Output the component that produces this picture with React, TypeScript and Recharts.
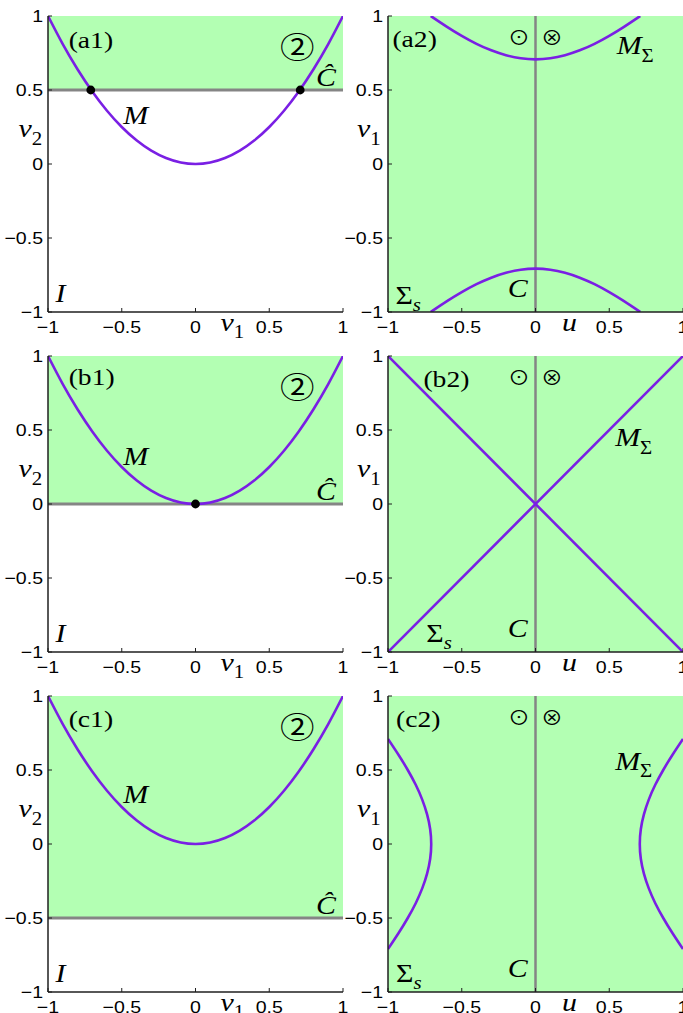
import React from 'react'
import {
  ComposedChart, Line, Scatter, XAxis, YAxis,
  ReferenceArea, ReferenceLine, ReferenceDot,
} from 'recharts'

// ---- data ----
const axisTicks = [-1, -0.5, 0, 0.5, 1]
const tickText: Record<string, string> = { '-1': '−1', '-0.5': '−0.5', '0': '0', '0.5': '0.5', '1': '1' }

// M in the (v1, v2) plane
const v1Grid = [-1, -0.9, -0.8, -0.7, -0.6, -0.5, -0.4, -0.3, -0.2, -0.1, 0, 0.1, 0.2, 0.3, 0.4, 0.5, 0.6, 0.7, 0.8, 0.9, 1]
const mCurve = [1, 0.81, 0.64, 0.49, 0.36, 0.25, 0.16, 0.09, 0.04, 0.01, 0, 0.01, 0.04, 0.09, 0.16, 0.25, 0.36, 0.49, 0.64, 0.81, 1]

// level of C-hat per row (a, b, c)
const cHatLevels = [0.5, 0, -0.5]

// points where M meets C-hat
const dotsA_v1 = [-0.71, 0.71]
const dotsA_v2 = [0.5, 0.5]
const dotsB_v1 = [0]
const dotsB_v2 = [0]

// (a2) M_Sigma: two branches over u
const uBranchA = [-0.71, -0.6, -0.5, -0.4, -0.3, -0.2, -0.1, 0, 0.1, 0.2, 0.3, 0.4, 0.5, 0.6, 0.71]
const mSigmaUpperA = [1, 0.927, 0.866, 0.812, 0.768, 0.735, 0.714, 0.707, 0.714, 0.735, 0.768, 0.812, 0.866, 0.927, 1]
const mSigmaLowerA = [-1, -0.927, -0.866, -0.812, -0.768, -0.735, -0.714, -0.707, -0.714, -0.735, -0.768, -0.812, -0.866, -0.927, -1]

// (b2) the two crossing lines
const uDiag = [-1, 1]
const diagRising = [-1, 1]
const diagFalling = [1, -1]

// (c2) M_Sigma: two branches over v1
const v1BranchC = [-0.71, -0.6, -0.5, -0.4, -0.3, -0.2, -0.1, 0, 0.1, 0.2, 0.3, 0.4, 0.5, 0.6, 0.71]
const uLeftC = [-1, -0.927, -0.866, -0.812, -0.768, -0.735, -0.714, -0.707, -0.714, -0.735, -0.768, -0.812, -0.866, -0.927, -1]
const uRightC = [1, 0.927, 0.866, 0.812, 0.768, 0.735, 0.714, 0.707, 0.714, 0.735, 0.768, 0.812, 0.866, 0.927, 1]

const pts = (xs: number[], ys: number[]) => xs.map((x, i) => ({ x, y: ys[i] }))

// ---- styling ----
const SX = 1.15
const PURPLE = '#7a1fe4'
const GREEN = '#b3ffb3'
const GRAY = '#858585'
const FRAME = '#1f1f1f'
const SERIF = '"Liberation Serif", "Times New Roman", serif'
const SANS = '"Liberation Sans", Arial, sans-serif'
const SYM = '"Noto Sans CJK JP", "DejaVu Sans", sans-serif'

const W = 353
const H = 348
const TICK = 4

type Part = { t: string; it?: boolean; sub?: boolean }
type Note = { x: number; y: number; parts: Part[]; font?: string; size?: number; anchor?: 'start' | 'middle'; center?: boolean }

const tag = (t: string, x: number, y: number): Note => ({ x, y, parts: [{ t }], size: 24, center: true })
const sym = (t: string, x: number, y: number, size: number): Note => ({ x, y, parts: [{ t }], font: SYM, size, anchor: 'middle', center: true })
const math = (parts: Part[], x: number, y: number, anchor: 'start' | 'middle' = 'start'): Note => ({ x, y, parts, size: 26, anchor })

function noteLabel(n: Note) {
  const size = n.size ?? 26
  return (props: any) => {
    const vb = props.viewBox ?? { x: 0, y: 0, width: 0, height: 0 }
    const cx = vb.x + (vb.width ?? 0) / 2
    const cy = vb.y + (vb.height ?? 0) / 2 + (n.center ? size * 0.35 : 0)
    let inSub = false
    return (
      <text
        transform={`translate(${cx},${cy}) scale(${SX},1)`}
        textAnchor={n.anchor ?? 'start'}
        fontFamily={n.font ?? SERIF}
        fontSize={size}
        fill="#000"
      >
        {n.parts.map((p, i) => {
          const dy = p.sub && !inSub ? size * 0.28 : !p.sub && inSub ? -size * 0.28 : 0
          inSub = !!p.sub
          return (
            <tspan key={i} dy={dy || undefined} fontStyle={p.it ? 'italic' : 'normal'} fontSize={p.sub ? size * 0.7 : size}>
              {p.t}
            </tspan>
          )
        })}
      </text>
    )
  }
}

const bottomTick = (p: any) => (
  <g>
    <line x1={p.x} x2={p.x} y1={p.y} y2={p.y - TICK} stroke={FRAME} />
    <text transform={`translate(${p.x},${p.y + 21}) scale(${SX},1)`} textAnchor="middle" fontFamily={SANS} fontSize={17} fill="#000">
      {tickText[String(p.payload.value)]}
    </text>
  </g>
)
const leftTick = (p: any) => (
  <g>
    <line x1={p.x} x2={p.x + TICK} y1={p.y} y2={p.y} stroke={FRAME} />
    <text transform={`translate(${p.x - 5},${p.y + 6}) scale(${SX},1)`} textAnchor="end" fontFamily={SANS} fontSize={17} fill="#000">
      {tickText[String(p.payload.value)]}
    </text>
  </g>
)
const topTick = (p: any) => <line x1={p.x} x2={p.x} y1={p.y} y2={p.y + TICK} stroke={FRAME} />
const rightTick = (p: any) => <line x1={p.x} x2={p.x - TICK} y1={p.y} y2={p.y} stroke={FRAME} />

type Spec = {
  key: string
  left: number
  top: number
  fillFrom: number
  cHat?: number
  cVertical?: boolean
  curves: { x: number; y: number }[][]
  straight?: boolean
  dots?: { x: number; y: number }[]
  notes: Note[]
}

const leftNotes = (label: string, labelY: number, cHat: number, mY: number): Note[] => [
  tag(label, -0.86, labelY),
  sym('②', 0.69, 0.79, 30),
  math([{ t: 'M', it: true }], -0.49, mY),
  math([{ t: 'Ĉ', it: true }], 0.885, cHat + 0.028, 'middle'),
  math([{ t: 'I', it: true }], -0.95, -0.93),
  math([{ t: 'v', it: true }, { t: '2', sub: true }], -1.2, 0.18),
  math([{ t: 'v', it: true }, { t: '1', sub: true }], 0.17, -1.128),
]

const rightNotes = (label: string, labelX: number, mSigmaX: number, mSigmaY: number, sX: number, sY: number): Note[] => [
  tag(label, labelX, 0.845),
  sym('⊙', -0.112, 0.85, 19),
  sym('⊗', 0.112, 0.85, 19),
  math([{ t: 'M', it: true }, { t: 'Σ', sub: true }], mSigmaX, mSigmaY),
  math([{ t: 'Σ' }, { t: 's', it: true, sub: true }], sX, sY),
  math([{ t: 'C', it: true }], -0.12, -0.9, 'middle'),
  math([{ t: 'v', it: true }, { t: '1', sub: true }], -1.21, 0.18),
  math([{ t: 'u', it: true }], 0.18, -1.128),
]

const specs: Spec[] = [
  {
    key: 'a1', left: 0, top: 0, fillFrom: cHatLevels[0], cHat: cHatLevels[0],
    curves: [pts(v1Grid, mCurve)], dots: pts(dotsA_v1, dotsA_v2),
    notes: leftNotes('(a1)', 0.84, cHatLevels[0], 0.27),
  },
  {
    key: 'a2', left: 340, top: 0, fillFrom: -1, cVertical: true,
    curves: [pts(uBranchA, mSigmaUpperA), pts(uBranchA, mSigmaLowerA)],
    notes: rightNotes('(a2)', -0.97, 0.55, 0.74, -0.95, -0.946),
  },
  {
    key: 'b1', left: 0, top: 340, fillFrom: cHatLevels[1], cHat: cHatLevels[1],
    curves: [pts(v1Grid, mCurve)], dots: pts(dotsB_v1, dotsB_v2),
    notes: leftNotes('(b1)', 0.86, cHatLevels[1], 0.265),
  },
  {
    key: 'b2', left: 340, top: 340, fillFrom: -1, cVertical: true, straight: true,
    curves: [pts(uDiag, diagRising), pts(uDiag, diagFalling)],
    notes: rightNotes('(b2)', -0.76, 0.54, 0.39, -0.74, -0.93),
  },
  {
    key: 'c1', left: 0, top: 680, fillFrom: cHatLevels[2], cHat: cHatLevels[2],
    curves: [pts(v1Grid, mCurve)],
    notes: leftNotes('(c1)', 0.85, cHatLevels[2], 0.277),
  },
  {
    key: 'c2', left: 340, top: 680, fillFrom: -1, cVertical: true,
    curves: [pts(uLeftC, v1BranchC), pts(uRightC, v1BranchC)],
    notes: rightNotes('(c2)', -0.945, 0.54, 0.5, -0.945, -0.93),
  },
]

function Panel({ s }: { s: Spec }) {
  const frame = { stroke: FRAME, strokeWidth: 1.5 }
  return (
    <div style={{ position: 'absolute', left: s.left, top: s.top }}>
      <ComposedChart width={W} height={H} margin={{ top: 16, right: 10, bottom: 10, left: 0 }}>
        <XAxis dataKey="x" type="number" domain={[-1, 1]} ticks={axisTicks} interval={0} allowDataOverflow
          height={26} tickSize={0} tickMargin={0} tickLine={false} tick={bottomTick} axisLine={frame} />
        <XAxis xAxisId="top" orientation="top" dataKey="x" type="number" domain={[-1, 1]} ticks={axisTicks} interval={0} allowDataOverflow
          height={0} tickSize={0} tickMargin={0} tickLine={false} tick={topTick} axisLine={frame} />
        <YAxis dataKey="y" type="number" domain={[-1, 1]} ticks={axisTicks} interval={0} allowDataOverflow
          width={48} tickSize={0} tickMargin={0} tickLine={false} tick={leftTick} axisLine={frame} />
        <YAxis yAxisId="right" orientation="right" dataKey="y" type="number" domain={[-1, 1]} ticks={axisTicks} interval={0} allowDataOverflow
          width={0} tickSize={0} tickMargin={0} tickLine={false} tick={rightTick} axisLine={frame} />

        <ReferenceArea x1={-1} x2={1} y1={s.fillFrom} y2={1} fill={GREEN} fillOpacity={1} stroke="none" />
        {s.cHat !== undefined && <ReferenceLine y={s.cHat} stroke={GRAY} strokeWidth={3} />}
        {s.cVertical && <ReferenceLine x={0} stroke={GRAY} strokeWidth={2.5} />}

        {s.curves.map((c, i) => (
          <Line key={i} data={c} dataKey="y" type={s.straight ? 'linear' : 'natural'} stroke={PURPLE} strokeWidth={2.6}
            dot={false} activeDot={false} isAnimationActive={false} />
        ))}
        {s.dots && (
          <Scatter data={s.dots} dataKey="y" isAnimationActive={false}
            shape={(p: any) => <circle cx={p.cx} cy={p.cy} r={4.4} fill="#000" />} />
        )}

        {s.notes.map((n, i) => (
          <ReferenceDot key={`n${i}`} x={n.x} y={n.y} r={0} fill="none" stroke="none" ifOverflow="visible" label={noteLabel(n)} />
        ))}
      </ComposedChart>
    </div>
  )
}

export default function App() {
  return (
    <div style={{ position: 'absolute', left: 0, top: 0, width: 683, height: 1013, overflow: 'hidden', background: '#fff' }}>
      {specs.map((s) => <Panel key={s.key} s={s} />)}
    </div>
  )
}
